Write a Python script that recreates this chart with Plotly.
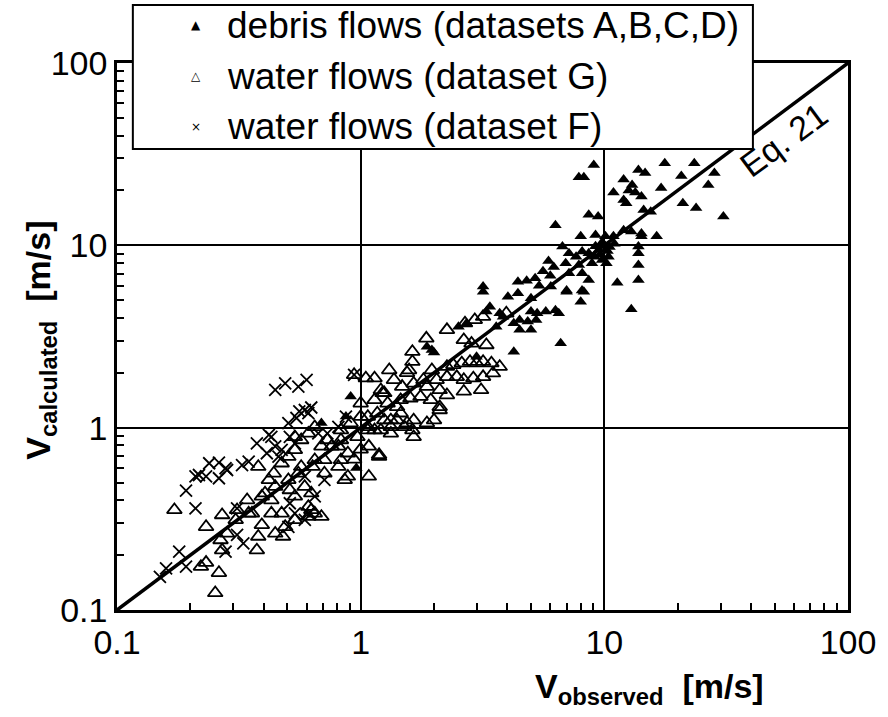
import plotly.graph_objects as go

# ---------------- data (m/s) ----------------
debris_obs = [9.05, 7.86, 8.24, 17.7, 23.4, 13.8, 14.7, 12.0, 20.7, 28.3, 13.0, 12.6, 13.4, 14.2, 10.9,
              17.1, 26.7, 12.0, 12.3, 21.0, 23.8, 30.8, 14.5, 15.5, 8.63, 9.43, 12.0, 12.9, 14.2, 14.2,
              16.4, 8.0, 9.2, 10.1, 10.9, 6.3, 6.73, 7.16, 7.66, 8.11, 8.63, 9.13, 9.79, 10.4, 6.94,
              7.86, 8.9, 10.2, 7.16, 8.11, 8.63, 13.8, 13.8, 13.8, 13.8, 11.3, 12.9, 7.0, 8.1, 8.0,
              9.5, 10.0, 10.5, 9.8, 9.2, 10.3, 11.0, 9.6,
              3.18, 3.18, 4.42, 4.42, 4.02, 5.0, 6.03, 7.0, 8.24, 3.39, 3.28, 3.72, 3.84, 5.0, 5.3,
              5.75, 6.3, 6.5, 4.49, 4.85, 5.25, 4.25, 4.49, 5.0, 2.52, 2.72, 3.60, 6.62, 4.25, 1.87,
              1.96, 2.0, 2.99, 0.91, 0.87, 0.96, 0.69,
              5.2, 5.6, 6.0, 5.9, 6.2, 5.4, 4.8]
debris_calc = [27.6, 23.6, 23.6, 28.2, 28.2, 25.9, 24.9, 23.0, 24.0, 24.9, 21.4, 20.0, 19.5, 18.5, 19.5,
               20.6, 21.4, 17.7, 17.0, 17.0, 16.0, 14.4, 15.6, 15.3, 14.7, 14.4, 12.1, 11.9, 11.6, 11.2,
               11.2, 11.2, 11.4, 11.2, 11.2, 12.9, 9.84, 9.05, 8.67, 9.24, 9.05, 8.67, 8.32, 8.67, 7.98,
               7.80, 7.98, 7.98, 7.03, 7.03, 6.46, 9.84, 9.05, 7.80, 6.46, 6.24, 4.46, 5.65, 5.65, 4.91,
               9.5, 10.0, 9.8, 10.4, 9.9, 9.3, 10.2, 8.9,
               5.94, 5.57, 6.32, 5.46, 5.23, 5.13, 5.94, 5.57, 5.57, 4.61, 4.33, 4.24, 4.06, 4.33, 4.24,
               4.33, 4.4, 4.24, 3.90, 3.82, 3.90, 3.74, 3.44, 3.44, 3.58, 3.74, 3.58, 2.90, 2.61, 2.78,
               2.67, 2.58, 2.45, 1.48, 1.15, 0.60, 1.06,
               6.6, 7.2, 6.8, 8.2, 7.6, 6.0, 6.4]

waterG_obs = [2.26, 2.68, 2.94, 3.18, 3.96, 1.86, 2.65, 2.85, 3.28, 1.63, 1.63, 1.58, 1.31, 1.37, 1.48,
              1.21, 1.23, 0.94, 1.05, 1.14, 1.65, 1.81, 1.96, 2.26, 2.40, 2.60, 2.81, 2.99, 3.18, 3.44,
              3.72, 3.49, 2.05, 2.26, 2.48, 2.65, 2.9, 3.18, 1.87, 2.11, 2.26, 1.94, 2.11, 2.65, 3.12,
              1.46, 1.60, 1.76, 1.29, 1.41, 1.65, 1.55, 1.33, 1.17, 1.07, 1.65, 1.63, 1.87, 2.0, 2.11,
              1.21, 1.33, 1.07, 0.97, 1.0, 1.08, 1.19, 0.94, 1.08,
              0.172, 0.232, 0.221, 0.232, 0.262, 0.253, 0.266, 0.27, 0.283, 0.27, 0.311, 0.307, 0.342,
              0.358, 0.375, 0.38, 0.393, 0.38, 0.405, 0.43, 0.43, 0.44, 0.42, 0.446, 0.48, 0.474, 0.505,
              0.537, 0.512, 0.537, 0.589, 0.627, 0.61, 0.648, 0.635, 0.71, 0.69, 0.73, 0.69, 0.61,
              0.648, 0.57, 0.537, 0.81, 0.83, 0.886, 0.81, 1.19, 0.86, 0.886, 0.83, 0.91, 1.0, 1.07,
              1.14, 1.25, 1.33, 1.41, 1.46, 1.51, 1.0, 1.14, 1.25, 1.55, 0.347, 0.393, 0.446, 0.505,
              0.555, 0.648, 0.76, 0.83, 0.71, 0.57, 0.474, 0.537, 0.61, 0.627, 0.49]
waterG_calc = [3.44, 3.74, 3.90, 4.06, 4.24, 3.09, 3.03, 2.90, 2.84, 2.61, 2.30, 2.07, 2.07, 1.83, 1.68,
               1.61, 1.55, 1.95, 1.87, 1.87, 1.75, 1.83, 2.07, 2.16, 2.21, 2.26, 2.30, 2.26, 2.30, 2.26,
               2.16, 1.99, 1.83, 1.90, 1.90, 1.83, 1.87, 1.90, 1.68, 1.61, 1.51, 1.42, 1.30, 1.58, 1.61,
               1.42, 1.45, 1.48, 1.36, 1.30, 1.10, 1.06, 1.10, 1.20, 1.15, 0.89, 0.97, 1.06, 1.10, 1.25,
               0.97, 0.93, 0.97, 0.89, 0.76, 0.79, 0.71, 0.67, 0.54,
               0.354, 0.286, 0.173, 0.182, 0.160, 0.124, 0.242, 0.213, 0.263, 0.332, 0.354, 0.312, 0.401,
               0.339, 0.213, 0.253, 0.293, 0.611, 0.437, 0.401, 0.339, 0.562, 0.517, 0.263, 0.253, 0.638,
               0.693, 0.755, 0.455, 0.42, 0.475, 0.437, 0.369, 0.339, 0.611, 0.665, 0.79, 0.856, 0.325,
               0.93, 1.01, 0.856, 0.89, 0.79, 0.665, 0.724, 0.611, 0.693, 0.517, 0.54, 0.97, 1.06, 1.15,
               1.01, 0.97, 1.10, 1.01, 1.10, 1.20, 1.01, 1.36, 1.42, 1.55, 2.0, 0.339, 0.42, 0.475,
               0.517, 0.562, 0.665, 0.79, 0.856, 0.562, 0.611, 0.339, 0.312, 0.325, 0.354, 0.286]

waterF_obs = [0.150, 0.159, 0.192, 0.180, 0.279, 0.311, 0.33, 0.311, 0.192, 0.21, 0.21, 0.217, 0.232,
              0.262, 0.239, 0.262, 0.283, 0.279, 0.326, 0.347, 0.375, 0.42, 0.43, 0.412, 0.446, 0.46,
              0.446, 0.49, 0.555, 0.6, 0.505, 0.545, 0.56, 0.59, 0.61, 0.627, 0.67, 0.512, 0.537, 0.474,
              0.512, 0.537, 0.505, 0.59, 0.61, 0.648, 0.71, 0.94, 0.87, 0.73, 0.81, 0.59]
waterF_calc = [0.152, 0.169, 0.173, 0.209, 0.209, 0.258, 0.232, 0.361, 0.451, 0.361, 0.54, 0.55, 0.54,
               0.528, 0.638, 0.643, 0.586, 0.599, 0.623, 0.651, 0.82, 0.912, 0.89, 0.724, 0.79, 0.693,
               1.61, 1.75, 1.68, 1.83, 1.06, 1.13, 1.23, 1.25, 1.20, 1.29, 0.93, 0.89, 0.82, 0.755,
               0.385, 0.339, 0.286, 0.312, 0.339, 0.42, 0.517, 1.95, 1.15, 0.93, 1.01, 0.54]

eq_x = [0.1, 100]
eq_y = [0.1, 100]

tick_vals = [0.1, 1, 10, 100]
tick_text = ["0.1", "1", "10", "100"]
minor_vals = [m * d for d in (0.1, 1, 10) for m in range(2, 10)]

legend_labels = ["debris flows (datasets A,B,C,D)", "water flows (dataset G)", "water flows (dataset F)"]
legend_glyphs = ["\u25B2", "\u25B3", "\u00D7"]

FONT = "Liberation Sans, Arial, Helvetica, sans-serif"

# plot area in pixels
W, H = 888, 717
L, R, T, B = 117, 855, 63, 610


def px(xp):
    return (xp - L) / (R - L)


def py(yp):
    return (B - yp) / (B - T)


fig = go.Figure()
fig.add_trace(go.Scatter(x=eq_x, y=eq_y, mode="lines", line=dict(color="black", width=3.5),
                         showlegend=False, hoverinfo="skip"))
fig.add_trace(go.Scatter(x=waterG_obs, y=waterG_calc, mode="markers", showlegend=False,
                         marker=dict(symbol="triangle-up-open", size=13, color="black",
                                     line=dict(width=1.8, color="black"))))
fig.add_trace(go.Scatter(x=waterF_obs, y=waterF_calc, mode="markers", showlegend=False,
                         marker=dict(symbol="x-thin-open", size=12, color="black",
                                     line=dict(width=1.8, color="black"))))
fig.add_trace(go.Scatter(x=debris_obs, y=debris_calc, mode="markers", showlegend=False,
                         marker=dict(symbol="triangle-up", size=11, color="black",
                                     line=dict(width=0))))

axis_common = dict(
    type="log", range=[-1, 2], showline=True, linecolor="black", linewidth=2.5, mirror=True,
    showgrid=True, gridcolor="black", gridwidth=2,
    tickmode="array", tickvals=tick_vals, ticktext=tick_text, ticks="",
    tickfont=dict(family=FONT, size=34, color="black"),
    minor=dict(tickmode="array", tickvals=minor_vals, ticks="inside", ticklen=7, tickwidth=1.5,
               tickcolor="black", showgrid=False),
)
fig.update_xaxes(**axis_common)
fig.update_yaxes(**axis_common)

shapes = [dict(type="rect", xref="paper", yref="paper", x0=px(133), x1=px(759), y0=py(149), y1=py(5),
               fillcolor="white", line=dict(color="black", width=2), layer="above")]

annotations = []
rows_y = [25, 76, 127]
for g, lab, ry in zip(legend_glyphs, legend_labels, rows_y):
    annotations.append(dict(xref="paper", yref="paper", x=px(197), y=py(ry), text=g, showarrow=False,
                            xanchor="center", yanchor="middle",
                            font=dict(family="DejaVu Sans", size=12, color="black")))
    annotations.append(dict(xref="paper", yref="paper", x=px(226), y=py(ry), text=lab, showarrow=False,
                            xanchor="left", yanchor="middle",
                            font=dict(family=FONT, size=37, color="black")))

annotations.append(dict(xref="x", yref="y", x=1.7356, y=1.575, text="Eq. 21", showarrow=False,
                        textangle=-36.5, font=dict(family=FONT, size=34, color="black")))
annotations.append(dict(xref="paper", yref="paper", x=px(655), y=py(688),
                        text="<b>V<sub>observed</sub>  [m/s]</b>", showarrow=False,
                        xanchor="center", yanchor="middle",
                        font=dict(family=FONT, size=34, color="black")))
annotations.append(dict(xref="paper", yref="paper", x=px(40), y=py(340),
                        text="<b>V<sub>calculated</sub>  [m/s]</b>", showarrow=False, textangle=-90,
                        xanchor="center", yanchor="middle",
                        font=dict(family=FONT, size=34, color="black")))

fig.update_layout(
    width=W, height=H,
    margin=dict(l=L, r=W - R, t=T, b=H - B),
    paper_bgcolor="white", plot_bgcolor="white",
    showlegend=False,
    shapes=shapes, annotations=annotations,
    font=dict(family=FONT, color="black"),
)

fig.write_html("out.html")
